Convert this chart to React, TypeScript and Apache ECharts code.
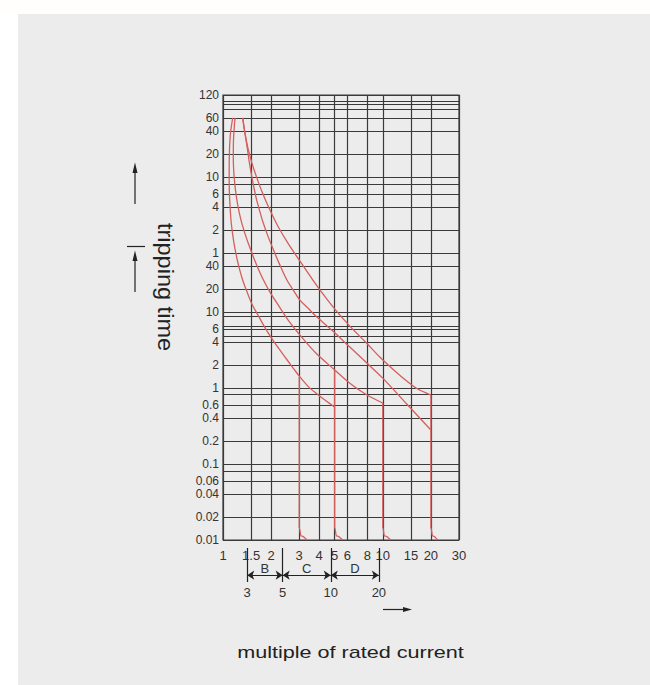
import React, { useEffect, useRef } from "react";
import * as echarts from "echarts";

// ---- data ----
// x axis: multiple of rated current (log scale)
const xTickValues = [1, 1.5, 2, 3, 4, 5, 6, 8, 10, 15, 20, 30];
// y axis: tripping time in seconds (log scale); upper part labelled in minutes
const yTickValues = [0.01, 0.02, 0.04, 0.06, 0.1, 0.2, 0.4, 0.6, 1, 2, 4, 6, 10, 20, 40, 60, 120, 240, 360, 600, 1200, 2400, 3600, 7200];
const yTickLabels = ["0.01", "0.02", "0.04", "0.06", "0.1", "0.2", "0.4", "0.6", "1", "2", "4", "6", "10", "20", "40", "1", "2", "4", "6", "10", "20", "40", "60", "120"];
// additional horizontal rulings drawn in the original sheet (seconds)
const yExtraGridValues = [6000, 5400, 4700, 480, 8.7, 6.5, 4.8, 0.83, 0.083];

// thermal-release curves: [multiple of In, seconds]
const curveA = [[1.15, 3600], [1.114, 2266], [1.098, 1354], [1.093, 738], [1.095, 403], [1.106, 256], [1.122, 162], [1.147, 109.5], [1.177, 76], [1.214, 54.6], [1.259, 39.1], [1.334, 25.6], [1.423, 17.8], [1.518, 12.7], [1.643, 9.41], [1.778, 6.95], [1.939, 5.13], [2.113, 3.91], [2.321, 2.98], [2.549, 2.27], [2.778, 1.78], [3.03, 1.4], [3.398, 1.06], [3.81, 0.86], [4.341, 0.695], [5, 0.56]];
const curveB = [[1.189, 3600], [1.163, 1833], [1.16, 1062], [1.172, 635], [1.197, 403], [1.237, 256], [1.296, 162], [1.369, 109.5], [1.454, 76], [1.585, 46.9], [1.753, 28.9], [1.967, 18.3], [2.239, 12.0], [2.585, 7.61], [3.03, 4.98], [3.81, 2.89], [5, 1.73], [6.22, 1.16], [7.83, 0.83], [10, 0.635]];
const curveC = [[1.328, 3600], [1.372, 2266], [1.419, 1439], [1.464, 913], [1.529, 546], [1.608, 326], [1.691, 220], [1.778, 153], [1.911, 100], [2.084, 63.5], [2.271, 41.5], [2.512, 26.4], [2.778, 18.9], [3.03, 14.4], [3.398, 11.3], [3.81, 8.86], [4.341, 6.95], [4.87, 5.62], [6.22, 3.46], [7.83, 2.2], [10, 1.35], [14.13, 0.616], [20, 0.28]];
const curveD = [[1.328, 3600], [1.372, 2266], [1.433, 1439], [1.518, 913], [1.631, 580], [1.778, 357], [1.967, 220], [2.207, 135], [2.549, 80.9], [3.03, 46.9], [3.652, 26.4], [4.279, 16.7], [5.01, 10.95], [6.22, 6.54], [7.91, 3.91], [9.58, 2.56], [11.72, 1.73], [14.13, 1.236], [16.55, 0.97], [20, 0.81]];
// instantaneous (magnetic) release drops
const drop3 = [[3, 1.4], [3, 0.0145], [3.08, 0.0113], [3.35, 0.01]];
const drop5 = [[5, 1.73], [5, 0.0145], [5.13, 0.0113], [5.6, 0.01]];
const drop10 = [[10, 0.635], [10, 0.0145], [10.25, 0.0113], [11.2, 0.01]];
const drop20 = [[20, 0.81], [20, 0.0145], [20.5, 0.0113], [22, 0.01]];

// characteristic bands under the axis
const bandBounds = [3, 5, 10, 20];
const bandNames = ["B", "C", "D"];

const FONT = "'Liberation Sans', Arial, Helvetica, sans-serif";
const GRID_COLOR = "#3a3a3a";
const RED = "#d45f5c";

function nearestIndex(values: number[], v: number) {
  let best = 0;
  let bestD = Infinity;
  values.forEach((t, i) => {
    const d = Math.abs(Math.log10(t) - Math.log10(v));
    if (d < bestD) {
      bestD = d;
      best = i;
    }
  });
  return best;
}

export default function App() {
  const ref = useRef<HTMLDivElement>(null);

  useEffect(() => {
    if (!ref.current) return;
    const chart = echarts.init(ref.current, null, { renderer: "svg" });

    const bandArrowLevel = 0.2;

    const curveSeries = [curveA, curveB, curveC, curveD].map((c, i) => ({
      type: "line",
      name: "curve" + i,
      xAxisIndex: 0,
      yAxisIndex: 0,
      data: c,
      symbol: "none",
      showSymbol: false,
      smooth: 0.3,
      silent: true,
      z: 5,
      lineStyle: { color: RED, width: 1.3 },
    }));
    const dropSeries = [drop3, drop5, drop10, drop20].map((c, i) => ({
      type: "line",
      name: "drop" + i,
      xAxisIndex: 0,
      yAxisIndex: 0,
      data: c,
      symbol: "none",
      showSymbol: false,
      smooth: 0.4,
      smoothMonotone: "x",
      silent: true,
      z: 5,
      lineStyle: { color: RED, width: 1.3 },
    }));

    const option: any = {
      animation: false,
      backgroundColor: "transparent",
      textStyle: { fontFamily: FONT },
      grid: [
        { left: 223, top: 95, width: 236, height: 445, show: true, borderColor: GRID_COLOR, borderWidth: 1.2, backgroundColor: "transparent" },
        { left: 171, top: 548, width: 236, height: 34 },
      ],
      xAxis: [
        {
          type: "log",
          logBase: 10,
          min: 1,
          max: 30,
          gridIndex: 0,
          axisLine: { show: false },
          axisTick: { show: false },
          splitLine: { show: false },
          axisLabel: {
            customValues: xTickValues,
            formatter: (v: number) => String(xTickValues[nearestIndex(xTickValues, v)]),
            fontSize: 13,
            lineHeight: 12,
            color: "#333",
            margin: 9,
            fontFamily: FONT,
          },
        },
        {
          type: "log",
          logBase: 10,
          min: 1,
          max: 30,
          gridIndex: 1,
          axisLine: { show: false },
          axisTick: { show: false },
          splitLine: { show: false },
          axisLabel: {
            customValues: bandBounds,
            formatter: (v: number) => String(bandBounds[nearestIndex(bandBounds, v)]),
            fontSize: 13,
            color: "#333",
            margin: 4,
            fontFamily: FONT,
          },
        },
      ],
      yAxis: [
        {
          type: "log",
          logBase: 10,
          min: 0.01,
          max: 7200,
          gridIndex: 0,
          axisLine: { show: false },
          axisTick: { show: false },
          splitLine: { show: false },
          axisLabel: {
            customValues: yTickValues,
            formatter: (v: number) => yTickLabels[nearestIndex(yTickValues, v)],
            fontSize: 12,
            lineHeight: 12,
            color: "#333",
            margin: 4,
            fontFamily: FONT,
          },
        },
        { type: "value", min: 0, max: 1, gridIndex: 1, show: false },
      ],
      graphic: [
        // vertical axis arrows
        { type: "line", silent: true, shape: { x1: 135, y1: 204, x2: 135, y2: 170 }, style: { stroke: "#222", lineWidth: 1.2 } },
        { type: "polygon", silent: true, shape: { points: [[132.5, 173], [135, 162.5], [137.5, 173]] }, style: { fill: "#222" } },
        { type: "line", silent: true, shape: { x1: 127, y1: 246.5, x2: 145, y2: 246.5 }, style: { stroke: "#222", lineWidth: 1.2 } },
        { type: "line", silent: true, shape: { x1: 135, y1: 292, x2: 135, y2: 258 }, style: { stroke: "#222", lineWidth: 1.2 } },
        { type: "polygon", silent: true, shape: { points: [[132.5, 261], [135, 250.5], [137.5, 261]] }, style: { fill: "#222" } },
        // horizontal arrow
        { type: "line", silent: true, shape: { x1: 383, y1: 609.5, x2: 405, y2: 609.5 }, style: { stroke: "#222", lineWidth: 1.2 } },
        { type: "polygon", silent: true, shape: { points: [[403, 607], [412, 609.5], [403, 612]] }, style: { fill: "#222" } },
        {
          type: "text",
          silent: true,
          x: 350.5,
          y: 652,
          scaleX: 1.27,
          style: { text: "multiple of rated current", fontSize: 17, fontFamily: FONT, fill: "#222", align: "center", verticalAlign: "middle" },
        },
        {
          type: "text",
          silent: true,
          x: 166,
          y: 287,
          rotation: -Math.PI / 2,
          scaleX: 1.07,
          style: { text: "tripping time", fontSize: 22, fontFamily: FONT, fill: "#222", align: "center", verticalAlign: "middle" },
        },
      ],
      series: [
        {
          type: "line",
          name: "rulings",
          xAxisIndex: 0,
          yAxisIndex: 0,
          data: [],
          silent: true,
          z: 2,
          markLine: {
            silent: true,
            symbol: "none",
            animation: false,
            label: { show: false },
            emphasis: { disabled: true },
            lineStyle: { color: GRID_COLOR, width: 1.2, type: "solid" },
            data: [
              ...[...yTickValues, ...yExtraGridValues].map((v) => ({ yAxis: v })),
              ...xTickValues.map((v) => ({ xAxis: v })),
            ],
          },
        },
        ...curveSeries,
        ...dropSeries,
        {
          type: "line",
          name: "bandBars",
          xAxisIndex: 1,
          yAxisIndex: 1,
          data: [],
          silent: true,
          markLine: {
            silent: true,
            symbol: "none",
            animation: false,
            label: { show: false },
            emphasis: { disabled: true },
            lineStyle: { color: "#222", width: 1.2, type: "solid" },
            data: bandBounds.map((v) => ({ xAxis: v })),
          },
        },
        {
          type: "line",
          name: "bandArrows",
          xAxisIndex: 1,
          yAxisIndex: 1,
          data: [],
          silent: true,
          markLine: {
            silent: true,
            symbol: ["arrow", "arrow"],
            symbolSize: 7,
            animation: false,
            emphasis: { disabled: true },
            lineStyle: { color: "#222", width: 1.2, type: "solid" },
            label: { show: true, position: "middle", formatter: "{b}", fontSize: 13, lineHeight: 12, color: "#333", distance: 1, fontFamily: FONT },
            data: bandNames.map((n, i) => [
              { name: n, coord: [bandBounds[i], bandArrowLevel] },
              { coord: [bandBounds[i + 1], bandArrowLevel] },
            ]),
          },
        },
      ],
    };

    chart.setOption(option);
    return () => chart.dispose();
  }, []);

  return (
    <div style={{ position: "fixed", left: 0, top: 0, width: 650, height: 685, background: "#ffffff", overflow: "hidden" }}>
      <div style={{ position: "absolute", left: 0, top: 0, width: 650, height: 14, background: "#fffefb" }} />
      <div style={{ position: "absolute", left: 18, top: 14, width: 632, height: 671, background: "#ececec" }} />
      <div ref={ref} style={{ position: "absolute", left: 0, top: 0, width: 650, height: 685 }} />
    </div>
  );
}
